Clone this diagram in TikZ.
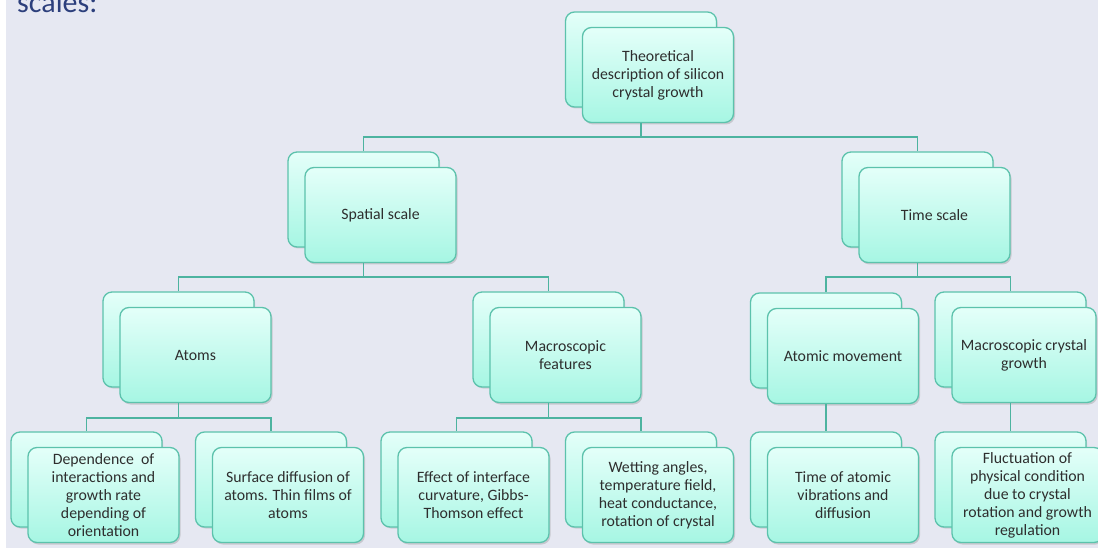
\documentclass[tikz,border=0pt]{standalone}
\usepackage{fontspec}
\setmainfont{Carlito}
\usetikzlibrary{shadows,calc}
\definecolor{bgc}{HTML}{E6E8F2}
\definecolor{boxtop}{HTML}{E4FFF9}
\definecolor{boxbot}{HTML}{A6F6E3}
\definecolor{boxline}{HTML}{5CC2AC}
\definecolor{connc}{HTML}{4DB3A0}
\definecolor{txt}{HTML}{2E2E2E}
\definecolor{titlec}{HTML}{2C3F7C}
\tikzset{
  boxbase/.style={draw=boxline, line width=1.3pt, rounded corners=9pt,
    top color=boxtop, bottom color=boxbot, inner sep=0pt,
    minimum width=151pt, minimum height=95pt},
  backbox/.style={boxbase, drop shadow={shadow xshift=1pt, shadow yshift=-1.5pt, opacity=0.25}},
  frontbox/.style={boxbase, drop shadow={shadow xshift=1.5pt, shadow yshift=-2pt, opacity=0.3},
    text=txt, align=center, font=\fontsize{15.8}{18}\selectfont},
  conn/.style={draw=connc, line width=1.8pt}
}
\begin{document}
\begin{tikzpicture}[x=1pt,y=-1pt]
\useasboundingbox (0,0) rectangle (1098,548);
\clip (0,0) rectangle (1098,548);
\fill[white] (0,0) rectangle (1098,548);
\fill[bgc] (6,0) rectangle (1098,548);
\node[anchor=base west, text=titlec, font=\fontsize{30}{36}\selectfont, inner sep=0pt] (title) at (17,13) {scales:};
% back boxes
\node[backbox] (b0) at (641,59.5) {};
\node[backbox] (b1) at (363.5,199.5) {};
\node[backbox] (b2) at (917.5,199.5) {};
\node[backbox] (b3) at (178.5,339.5) {};
\node[backbox] (b4) at (548.5,339.5) {};
\node[backbox] (b5) at (826,340.5) {};
\node[backbox] (b6) at (1010.5,339.5) {};
\node[backbox] (b7) at (86.5,479.5) {};
\node[backbox] (b8) at (271,479.5) {};
\node[backbox] (b9) at (456.5,479.5) {};
\node[backbox] (b10) at (641,479.5) {};
\node[backbox] (b11) at (826,479.5) {};
\node[backbox] (b12) at (1010.5,479.5) {};
% front boxes
\node[frontbox] (t0) at ($(b0)+(17,15.5)$) {Theoretical\\description of silicon\\crystal growth};
\node[frontbox] (t1) at ($(b1)+(17,15.5)$) {Spatial scale};
\node[frontbox] (t2) at ($(b2)+(17,15.5)$) {Time scale};
\node[frontbox] (t3) at ($(b3)+(17,15.5)$) {Atoms};
\node[frontbox] (t4) at ($(b4)+(17,15.5)$) {Macroscopic\\features};
\node[frontbox] (t5) at ($(b5)+(17,15.5)$) {Atomic movement};
\node[frontbox, minimum width=144pt] (t6) at ($(b6)+(13.5,15.5)$) {Macroscopic crystal\\growth};
\node[frontbox] (t7) at ($(b7)+(17,15.5)$) {Dependence~ of\\interactions and\\growth rate\\depending of\\orientation};
\node[frontbox] (t8) at ($(b8)+(17,15.5)$) {Surface diffusion of\\atoms. Thin films of\\atoms};
\node[frontbox] (t9) at ($(b9)+(17,15.5)$) {Effect of interface\\curvature, Gibbs-\\Thomson effect};
\node[frontbox] (t10) at ($(b10)+(17,15.5)$) {Wetting angles,\\temperature field,\\heat conductance,\\rotation of crystal};
\node[frontbox] (t11) at ($(b11)+(17,15.5)$) {Time of atomic\\vibrations and\\diffusion};
\node[frontbox] (t12) at ($(b12)+(17,15.5)$) {Fluctuation of\\physical condition\\due to crystal\\rotation and growth\\regulation};
% connectors
\draw[conn] (b0.center |- t0.south) -- ++(0,14) -| (b1.north);
\draw[conn] (b0.center |- t0.south) -- ++(0,14) -| (b2.north);
\draw[conn] (b1.center |- t1.south) -- ++(0,14) -| (b3.north);
\draw[conn] (b1.center |- t1.south) -- ++(0,14) -| (b4.north);
\draw[conn] (b2.center |- t2.south) -- ++(0,14) -| (b5.north);
\draw[conn] (b2.center |- t2.south) -- ++(0,14) -| (b6.north);
\draw[conn] (b3.center |- t3.south) -- ++(0,15) -| (b7.north);
\draw[conn] (b3.center |- t3.south) -- ++(0,15) -| (b8.north);
\draw[conn] (b4.center |- t4.south) -- ++(0,15) -| (b9.north);
\draw[conn] (b4.center |- t4.south) -- ++(0,15) -| (b10.north);
\draw[conn] (b5.center |- t5.south) -- (b11.north);
\draw[conn] (b6.center |- t6.south) -- (b12.north);
\end{tikzpicture}
\end{document}
